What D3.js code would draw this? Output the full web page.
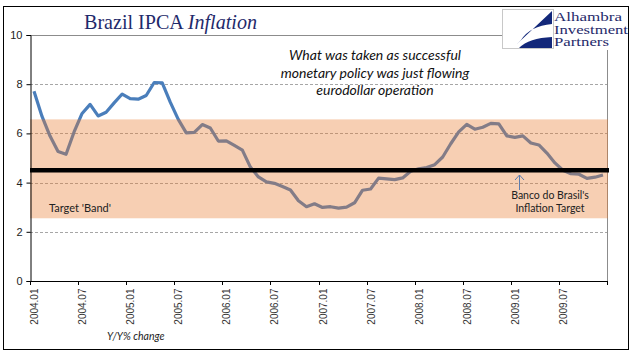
<!DOCTYPE html>
<html>
<head>
<meta charset="utf-8">
<script src="https://cdn.jsdelivr.net/npm/d3@7/dist/d3.min.js"></script>
<style>
body{margin:0;background:#fff;}
svg{display:block;}
</style>
</head>
<body>
<svg id="chart" width="641" height="361"></svg>
<script>
// ---- data ----
const years = [2004, 2005, 2006, 2007, 2008, 2009];
const months = [];
years.forEach(y => { for (let m = 1; m <= 12; m++) months.push(y + "." + (m < 10 ? "0" + m : m)); });
const ipca = [
  7.71, 6.69, 5.89, 5.26, 5.15, 6.06, 6.81, 7.18, 6.71, 6.86, 7.24, 7.60,
  7.41, 7.39, 7.54, 8.07, 8.05, 7.27, 6.57, 6.02, 6.04, 6.36, 6.22, 5.69,
  5.70, 5.51, 5.32, 4.63, 4.23, 4.03, 3.97, 3.84, 3.70, 3.26, 3.02, 3.14,
  2.99, 3.02, 2.96, 3.00, 3.18, 3.69, 3.74, 4.18, 4.15, 4.12, 4.19, 4.46,
  4.56, 4.61, 4.73, 5.04, 5.58, 6.06, 6.37, 6.17, 6.25, 6.41, 6.39, 5.90,
  5.84, 5.90, 5.61, 5.53, 5.20, 4.80, 4.50, 4.36, 4.34, 4.17, 4.22, 4.31
];
const xTickLabels = ["2004.01","2004.07","2005.01","2005.07","2006.01","2006.07","2007.01","2007.07","2008.01","2008.07","2009.01","2009.07"];
const yTicks = [0, 2, 4, 6, 8, 10];
const bandLow = 2.55, bandHigh = 6.57;
const target = 4.5;

// ---- layout ----
const svg = d3.select("#chart");
const L = 30, R = 607, T = 35, B = 281;

const xBand = d3.scaleBand().domain(months).range([L, R]).paddingInner(0).paddingOuter(0);
const x = d3.scalePoint().domain(months).range([L, R]).padding(0.5);
const y = d3.scaleLinear().domain([0, 10]).range([B, T]);

// outer frame
svg.append("rect").attr("x", 3.5).attr("y", 6.5).attr("width", 625).attr("height", 343)
  .attr("fill", "#fff").attr("stroke", "#000").attr("stroke-width", 1);

// gridlines
svg.append("g").selectAll("line").data(yTicks.filter(d => d > 0 && d < 10)).join("line")
  .attr("x1", L).attr("x2", R).attr("y1", d => Math.round(y(d)) + 0.5).attr("y2", d => Math.round(y(d)) + 0.5)
  .attr("stroke", "#a6a6a6").attr("stroke-width", 1).attr("stroke-dasharray", "3,2");

// plot border top/right
svg.append("path").attr("d", `M${L},${y(10)+0.5}H${R+0.5}V${B}`)
  .attr("fill", "none").attr("stroke", "#8c8c8c").attr("stroke-width", 1);

// series line
const line = d3.line().x((d, i) => x(months[i])).y(d => y(d));
svg.append("path").datum(ipca).attr("d", line)
  .attr("fill", "none").attr("stroke", "#4a7ebb").attr("stroke-width", 3.2)
  .attr("stroke-linejoin", "round");

// target band (translucent, over the line)
svg.append("rect").attr("x", L).attr("width", R - L + 1)
  .attr("y", y(bandHigh)).attr("height", y(bandLow) - y(bandHigh))
  .attr("fill", "rgb(232,122,44)").attr("fill-opacity", 0.36);

// target line
svg.append("line").attr("x1", L).attr("x2", R + 2).attr("y1", y(target)).attr("y2", y(target))
  .attr("stroke", "#000").attr("stroke-width", 4.5);

// y axis
const yAxis = svg.append("g").attr("transform", `translate(${L + 0.5},0)`)
  .call(d3.axisLeft(y).tickValues(yTicks).tickSize(4).tickPadding(4).tickFormat(d3.format("d")));
yAxis.select(".domain").attr("stroke", "#000");
yAxis.selectAll("text").attr("font-family", "Liberation Sans, Arial, sans-serif").attr("font-size", 11).attr("fill", "#222");

// x axis
const xAxis = svg.append("g").attr("transform", `translate(0,${B + 0.5})`)
  .call(d3.axisBottom(x).tickValues(xTickLabels).tickSize(0).tickPadding(0).tickFormat(d => d));
xAxis.select(".domain").attr("d", `M${L},0H${R}`).attr("stroke", "#000");
xAxis.selectAll("text")
  .attr("font-family", "Liberation Sans, Arial, sans-serif").attr("font-size", 10).attr("fill", "#333")
  .attr("text-anchor", "end").attr("transform", "rotate(-90)")
  .attr("x", -7).attr("y", 0).attr("dy", "0.35em");
// category boundary tick marks
const tickPos = xTickLabels.map(d => xBand(d)).concat([R]);
svg.append("g").selectAll("line").data(tickPos).join("line")
  .attr("x1", d => Math.round(d) + 0.5).attr("x2", d => Math.round(d) + 0.5)
  .attr("y1", B).attr("y2", B + 4).attr("stroke", "#000");

// title
const title = svg.append("text").attr("x", 84).attr("y", 29)
  .attr("font-family", "Liberation Serif, serif").attr("font-size", 21).attr("fill", "#1f2a6b")
  .attr("textLength", 173).attr("lengthAdjust", "spacingAndGlyphs");
title.append("tspan").text("Brazil IPCA ");
title.append("tspan").attr("font-style", "italic").text("Inflation");

// annotation
const ann = ["What was taken as successful", "monetary policy was just flowing", "eurodollar operation"];
svg.append("g").selectAll("text").data(ann).join("text")
  .attr("x", 375).attr("y", (d, i) => 60 + i * 17.5).attr("text-anchor", "middle")
  .attr("font-family", "Lato, sans-serif").attr("font-style", "italic").attr("font-size", 14).attr("fill", "#111")
  .text(d => d);

// logo
const logo = svg.append("g");
logo.append("rect").attr("x", 502).attr("y", 8).attr("width", 125).attr("height", 42).attr("fill", "#fff");
logo.append("rect").attr("x", 502.5).attr("y", 9.5).attr("width", 51).attr("height", 39).attr("fill", "#fff")
  .attr("stroke", "#c8c8c8");
logo.append("path").attr("d", "M552,11 L552,24 Q530,26 521,40 L517,44 Z").attr("fill", "#13287a");
logo.append("path").attr("d", "M519,48 Q529,38 552,37 L552,48 Z").attr("fill", "#13287a");
const logoTxt = ["Alhambra", "Investment", "Partners"];
const logoW = [68, 74, 55];
logo.selectAll("text.l").data(logoTxt).join("text").attr("class", "l")
  .attr("x", 554).attr("y", (d, i) => 21 + i * 12.5)
  .attr("font-family", "Liberation Serif, serif").attr("font-size", 12).attr("fill", "#1f2a6b")
  .attr("textLength", (d, i) => logoW[i]).attr("lengthAdjust", "spacingAndGlyphs")
  .text(d => d);

// band label
svg.append("text").attr("x", 49).attr("y", 212)
  .attr("font-family", "Lato, sans-serif").attr("font-size", 11).attr("fill", "#222").text("Target 'Band'");

// target label + arrow
const tgt = ["Banco do Brasil's", "Inflation Target"];
svg.append("g").selectAll("text").data(tgt).join("text")
  .attr("x", 550).attr("y", (d, i) => 199 + i * 13).attr("text-anchor", "middle")
  .attr("font-family", "Lato, sans-serif").attr("font-size", 10.5).attr("fill", "#222").text(d => d);
svg.append("path").attr("d", "M519.5,190V175M515,180L519.5,175L524,180")
  .attr("fill", "none").attr("stroke", "#5a7cb0").attr("stroke-width", 1);

// axis note
svg.append("text").attr("x", 107).attr("y", 340)
  .attr("font-family", "Lato, sans-serif").attr("font-style", "italic").attr("font-size", 10.5).attr("fill", "#222")
  .text("Y/Y% change");
</script>
</body>
</html>
